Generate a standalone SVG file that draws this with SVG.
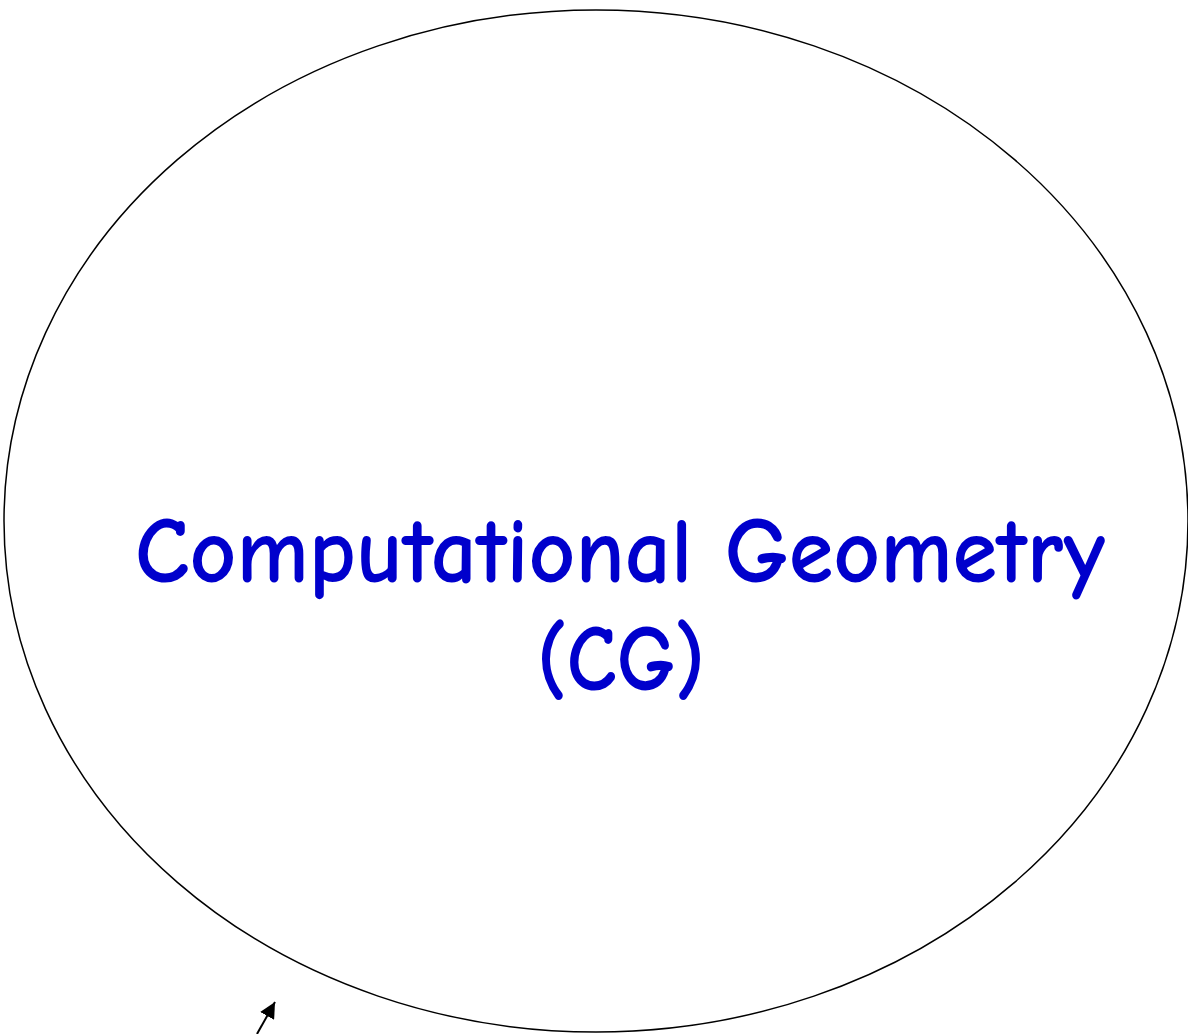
<svg xmlns="http://www.w3.org/2000/svg" width="1188" height="1034" viewBox="0 0 1188 1034">
<style>
.lbl{font-family:"Comic Neue","Liberation Sans",sans-serif;fill:#0000CC;font-size:94px;font-weight:bold;text-anchor:middle}
</style>
<defs>
<marker id="ah" markerWidth="16" markerHeight="16" refX="14" refY="7" orient="auto" markerUnits="userSpaceOnUse" viewBox="0 0 14 14">
<path d="M0,0 L14,7 L0,14 z" fill="#000"/>
</marker>
</defs>
<rect width="1188" height="1034" fill="#fff"/>
<g id="cg">
<ellipse cx="596" cy="521" rx="592" ry="511" fill="none" stroke="#000" stroke-width="1.5"/>
<text class="lbl" x="620" y="582" textLength="970" lengthAdjust="spacingAndGlyphs">Computational Geometry</text>
<text class="lbl" x="621" y="690" textLength="168" lengthAdjust="spacingAndGlyphs">(CG)</text>
</g>
<g id="connectors">
<line x1="257" y1="1034" x2="275" y2="1002" stroke="#000" stroke-width="2" marker-end="url(#ah)"/>
</g>
</svg>
